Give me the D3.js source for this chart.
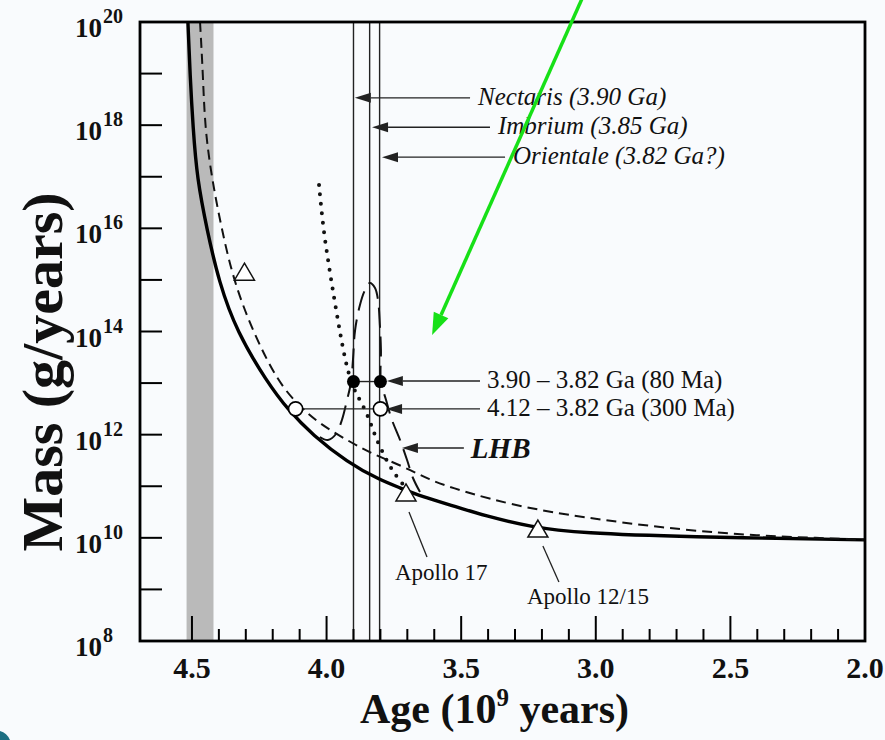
<!DOCTYPE html>
<html lang="en">
<head>
<meta charset="UTF-8">
<script src="https://cdnjs.cloudflare.com/ajax/libs/d3/7.8.5/d3.min.js"></script>
<style>
  body { margin: 0; background: #f9fbfd; }
  svg { display: block; }
  text { font-family: "Liberation Serif", "DejaVu Serif", serif; fill: #111; }
</style>
</head>
<body>
<script>
// ---- data: [age in Ga, log10 of mass flux in g/yr] ----
const solidFlux = [[4.515,20.0],[4.507,18.97],[4.496,17.95],[4.481,16.96],[4.444,15.97],[4.400,14.96],
  [4.333,13.99],[4.221,13.02],[4.143,12.48],[4.051,11.99],[3.924,11.47],[3.802,11.12],[3.727,10.97],
  [3.653,10.81],[3.504,10.58],[3.419,10.44],[3.244,10.21],[3.048,10.09],[2.676,10.02],[2.0,9.96]];
const dashedFlux = [[4.470,20.0],[4.459,18.97],[4.452,17.95],[4.426,16.96],[4.389,15.97],[4.344,14.96],
  [4.273,13.99],[4.181,13.02],[4.099,12.54],[4.025,12.21],[3.920,11.88],[3.831,11.63],[3.709,11.37],
  [3.616,11.12],[3.534,10.97],[3.393,10.75],[3.218,10.54],[2.984,10.35],[2.676,10.15],[2.390,10.04],
  [2.178,10.0],[2.0,9.96]];
const dottedFlux = [[4.028,16.84],[4.013,16.03],[3.995,15.39],[3.965,14.42],[3.932,13.45],[3.906,12.96],
  [3.883,12.73],[3.850,12.42],[3.828,12.09],[3.802,11.76],[3.764,11.37],[3.738,11.18],[3.709,10.99]];
const lhbFlux = [[4.025,11.955],[3.995,11.897],[3.965,12.013],[3.943,12.284],[3.924,12.672],[3.909,13.021],
  [3.902,13.447],[3.894,14.029],[3.876,14.514],[3.857,14.805],[3.839,14.94],[3.820,14.843],[3.809,14.611],
  [3.802,14.126],[3.798,13.641],[3.798,13.04],[3.779,12.672],[3.757,12.284],[3.727,11.897],[3.701,11.509],
  [3.679,11.16],[3.653,10.889]];

const filledDots = [[3.90,13.03],[3.80,13.03]];
const openDots = [[4.115,12.5],[3.80,12.5]];
const triangles = [[4.305,15.15],[3.705,10.87],[3.215,10.17]];
const apolloNames = ["", "Apollo 17", "Apollo 12/15"];

const craterNames = ["Nectaris (3.90 Ga)", "Imbrium (3.85 Ga)", "Orientale (3.82 Ga?)"];
const craterAges = [3.90, 3.84, 3.803];
const craterArrowLog = [18.53, 17.96, 17.38];
const craterArrowTail = [3.467, 3.393, 3.337];
const craterArrowTip = [3.895, 3.831, 3.794];

const spanNames = ["3.90 \u2013 3.82 Ga (80 Ma)", "4.12 \u2013 3.82 Ga (300 Ma)", "LHB"];
const spanArrowLog = [13.04, 12.5, 11.742];
const spanArrowTail = [3.43, 3.43, 3.49];
const spanArrowTip = [3.776, 3.779, 3.72];

const primordialBand = [4.52, 4.42];
const xMajor = [4.5, 4.0, 3.5, 3.0, 2.5, 2.0];
const xMinor = d3.range(45, 19, -1).map(d => d / 10);
const yDecades = d3.range(8, 21);
const yLabelled = [8, 10, 12, 14, 16, 18, 20];

// ---- layout ----
const W = 885, H = 740;
const svg = d3.select("body").append("svg").attr("width", W).attr("height", H);

const x = d3.scaleLinear().domain([4.693, 2.0]).range([140, 865]);
const y = d3.scaleLog().domain([1e8, 1e20]).range([641, 22]);
const Y = e => y(Math.pow(10, e));

// grey band
svg.append("rect")
  .attr("x", x(primordialBand[0])).attr("y", y(1e20))
  .attr("width", x(primordialBand[1]) - x(primordialBand[0]))
  .attr("height", y(1e8) - y(1e20))
  .attr("fill", "#bababa");

// vertical crater lines
svg.selectAll(".crater").data(craterAges).enter().append("line")
  .attr("x1", d => x(d)).attr("x2", d => x(d))
  .attr("y1", y(1e20)).attr("y2", y(1e8))
  .attr("stroke", "#222").attr("stroke-width", 1.4);

const smooth = d3.line().x(d => x(d[0])).y(d => Y(d[1])).curve(d3.curveBasis);
const line = d3.line().x(d => x(d[0])).y(d => Y(d[1])).curve(d3.curveCatmullRom.alpha(0.5));

svg.append("path").attr("d", smooth(solidFlux))
  .attr("fill", "none").attr("stroke", "#000").attr("stroke-width", 3.4);
svg.append("path").attr("d", smooth(dashedFlux))
  .attr("fill", "none").attr("stroke", "#111").attr("stroke-width", 2)
  .attr("stroke-dasharray", "10 6");
svg.append("path").attr("d", smooth(dottedFlux))
  .attr("fill", "none").attr("stroke", "#111").attr("stroke-width", 4)
  .attr("stroke-linecap", "round").attr("stroke-dasharray", "0 9.5");
svg.append("path").attr("d", line(lhbFlux))
  .attr("fill", "none").attr("stroke", "#111").attr("stroke-width", 2)
  .attr("stroke-dasharray", "20 9");

// helper: arrow with filled head at the tip
function arrow(x1, y1, x2, y2, color, width, headLen, headHalf) {
  const a = Math.atan2(y2 - y1, x2 - x1);
  const bx = x2 - headLen * Math.cos(a), by = y2 - headLen * Math.sin(a);
  svg.append("line").attr("x1", x1).attr("y1", y1).attr("x2", bx).attr("y2", by)
    .attr("stroke", color).attr("stroke-width", width);
  const p = [[x2, y2],
    [bx + headHalf * Math.sin(a), by - headHalf * Math.cos(a)],
    [bx - headHalf * Math.sin(a), by + headHalf * Math.cos(a)]];
  svg.append("path").attr("d", "M" + p.join("L") + "Z").attr("fill", color);
}

// connecting horizontals between dots
svg.append("line").attr("x1", x(filledDots[0][0])).attr("x2", x(filledDots[1][0]))
  .attr("y1", Y(filledDots[0][1])).attr("y2", Y(filledDots[1][1]))
  .attr("stroke", "#222").attr("stroke-width", 1.4);
svg.append("line").attr("x1", x(openDots[0][0])).attr("x2", x(openDots[1][0]))
  .attr("y1", Y(openDots[0][1])).attr("y2", Y(openDots[1][1]))
  .attr("stroke", "#222").attr("stroke-width", 1.4);

svg.selectAll(".fdot").data(filledDots).enter().append("circle")
  .attr("cx", d => x(d[0])).attr("cy", d => Y(d[1])).attr("r", 6.5).attr("fill", "#000");
svg.selectAll(".odot").data(openDots).enter().append("circle")
  .attr("cx", d => x(d[0])).attr("cy", d => Y(d[1])).attr("r", 7)
  .attr("fill", "#fff").attr("stroke", "#000").attr("stroke-width", 1.6);

// triangles
svg.selectAll(".tri").data(triangles).enter().append("path")
  .attr("transform", d => `translate(${x(d[0])},${Y(d[1])})`)
  .attr("d", "M0,-9L10,8L-10,8Z")
  .attr("fill", "#fff").attr("stroke", "#111").attr("stroke-width", 1.5);

// Apollo leaders and labels
triangles.forEach((d, i) => {
  if (!apolloNames[i]) return;
  const tx = x(d[0]), ty = Y(d[1]);
  const lead = i === 1 ? [3, 19, 21, 64, -11, 87] : [5, 17, 21, 53, -11, 75];
  svg.append("line").attr("x1", tx + lead[0]).attr("y1", ty + lead[1])
    .attr("x2", tx + lead[2]).attr("y2", ty + lead[3])
    .attr("stroke", "#222").attr("stroke-width", 1.3);
  svg.append("text").attr("x", tx + lead[4]).attr("y", ty + lead[5])
    .attr("font-size", 23).text(apolloNames[i]);
});

// crater arrows + labels
craterNames.forEach((n, i) => {
  const yy = Y(craterArrowLog[i]);
  arrow(x(craterArrowTail[i]), yy, x(craterArrowTip[i]), yy, "#222", 1.4, 16, 5);
  svg.append("text").attr("x", x(craterArrowTail[i]) + 8).attr("y", yy + 7)
    .attr("font-size", 25).attr("font-style", "italic").text(n);
});

// span arrows + labels
spanNames.forEach((n, i) => {
  const yy = Y(spanArrowLog[i]);
  arrow(x(spanArrowTail[i]), yy, x(spanArrowTip[i]), yy, "#222", 1.4, 16, 5);
  const t = svg.append("text").attr("x", x(spanArrowTail[i]) + 7).attr("y", yy + (i === 2 ? 10 : 7)).text(n);
  if (i === 2) t.attr("font-size", 29).attr("font-weight", "bold").attr("font-style", "italic");
  else t.attr("font-size", 25);
});

// frame
svg.append("rect").attr("x", 140).attr("y", 22).attr("width", 725).attr("height", 619)
  .attr("fill", "none").attr("stroke", "#000").attr("stroke-width", 2.8);

// x ticks (inward)
svg.selectAll(".xmin").data(xMinor).enter().append("line")
  .attr("x1", d => x(d)).attr("x2", d => x(d))
  .attr("y1", 641).attr("y2", d => xMajor.some(m => Math.abs(m - d) < 1e-6) ? 616 : 629)
  .attr("stroke", "#000").attr("stroke-width", 2);
svg.selectAll(".xlab").data(xMajor).enter().append("text")
  .attr("x", d => x(d)).attr("y", 678).attr("text-anchor", "middle")
  .attr("font-size", 30).attr("font-weight", "bold").text(d => d.toFixed(1));

// y ticks (inward)
svg.selectAll(".ytick").data(yDecades).enter().append("line")
  .attr("x1", 140).attr("x2", 162).attr("y1", d => Y(d)).attr("y2", d => Y(d))
  .attr("stroke", "#000").attr("stroke-width", 2);
const yl = svg.selectAll(".ylab").data(yLabelled).enter().append("text")
  .attr("x", 75).attr("y", d => Y(d) + 15).attr("font-weight", "bold");
yl.append("tspan").attr("font-size", 27).text("10");
yl.append("tspan").attr("font-size", 20).attr("dx", 1).attr("dy", -14).text(d => d);

// axis titles
const xt = svg.append("text").attr("x", 360).attr("y", 723)
  .attr("font-size", 42).attr("font-weight", "bold");
xt.append("tspan").text("Age (10");
xt.append("tspan").attr("font-size", 25).attr("dy", -17).text("9");
xt.append("tspan").attr("dy", 17).text(" years)");

svg.append("text").attr("transform", "translate(62,372) rotate(-90)")
  .attr("text-anchor", "middle").attr("font-size", 58).attr("font-weight", "bold")
  .text("Mass (g/years)");

// green pointer arrow
arrow(x(3.036), Y(20.63), x(3.608), Y(13.93), "#17e017", 3.5, 22, 8);

// slide corner
svg.append("path").attr("d", "M0,731 Q7,733 10,740 L0,740 Z").attr("fill", "#1d6f82");
</script>
</body>
</html>
